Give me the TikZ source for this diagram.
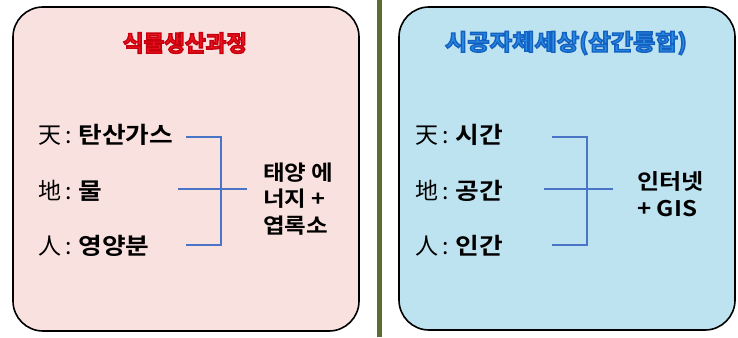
\documentclass[tikz,border=0pt]{standalone}
\usepackage{fontspec}
\newfontfamily\kr{Noto Sans CJK KR}
\newfontfamily\krb[FakeStretch=1.12]{Noto Sans CJK KR Bold}
\newfontfamily\krt{Noto Sans CJK KR Bold}
\definecolor{pinkfill}{HTML}{F9E1E0}
\definecolor{bluefill}{HTML}{BEE3F0}
\definecolor{brk}{HTML}{4A74C6}
\definecolor{olive}{HTML}{5A6E32}
\definecolor{tred}{HTML}{EE1420}
\definecolor{tblue}{HTML}{2A8BE6}
\newcommand{\outl}[2]{\special{pdf:literal direct 2 Tr 1.4 w #1 RG}#2\special{pdf:literal direct 0 Tr}}
\newcommand{\lbl}[2]{{\kr #1}\hspace{4pt}{\kr :}\hspace{7pt}{\krb #2}}
\begin{document}
\begin{tikzpicture}[x=1pt,y=-1pt,
  panel/.style={draw=black,line width=1.6pt,rounded corners=30pt},
  item/.style={anchor=west,inner sep=0pt,font=\fontsize{23}{26}\selectfont},
  side/.style={anchor=west,inner sep=0pt,align=left,font=\krb\fontsize{21}{26.5}\selectfont},
  brline/.style={draw=brk,line width=1.6pt},
  ttl/.style={inner sep=0pt,font=\krt\fontsize{22.5}{24}\selectfont}]
\useasboundingbox (0,0) rectangle (738,337);
\fill[white] (0,0) rectangle (738,337);
% divider
\draw[olive,line width=5pt] (379,0) -- (379,337);
% panels
\draw[panel,fill=pinkfill] (13,7) rectangle (359,331);
\draw[panel,fill=bluefill] (399,7) rectangle (735,330);
% titles
\node[ttl,text=tred] (t1) at (185,43) {\outl{0.78 0 0.05}{식물생산과정}};
\node[ttl,text=tblue,xscale=1.08] (t2) at (566,43) {\outl{0.08 0.38 0.75}{시공자체세상(삼간통합)}};
% left items
\node[item] (a1) at (38,135) {\lbl{天}{탄산가스}};
\node[item] (a2) at (38,191) {\lbl{地}{물}};
\node[item] (a3) at (38,246) {\lbl{人}{영양분}};
\coordinate (l1) at (186,137);
\coordinate (l2) at (178,189);
\coordinate (l3) at (186,245);
\coordinate (lv1) at (221,137);
\coordinate (lv3) at (221,245);
\coordinate (lm) at (247,189);
\draw[brline] (l1) -- (lv1) -- (lv3) -- (l3);
\draw[brline] (l2) -- (lm);
\node[side] (s1) at (263,199) {태양 에\\너지 +\\엽록소};
% right items
\node[item] (b1) at (415,135) {\lbl{天}{시간}};
\node[item] (b2) at (415,191) {\lbl{地}{공간}};
\node[item] (b3) at (415,246) {\lbl{人}{인간}};
\coordinate (r1) at (552,137);
\coordinate (r2) at (544,189);
\coordinate (r3) at (552,245);
\coordinate (rv1) at (587,137);
\coordinate (rv3) at (587,245);
\coordinate (rm) at (613,189);
\draw[brline] (r1) -- (rv1) -- (rv3) -- (r3);
\draw[brline] (r2) -- (rm);
\node[side,font=\krb\fontsize{21.5}{27}\selectfont] (s2) at (637,194) {인터넷\\+ GIS};
\end{tikzpicture}
\end{document}
